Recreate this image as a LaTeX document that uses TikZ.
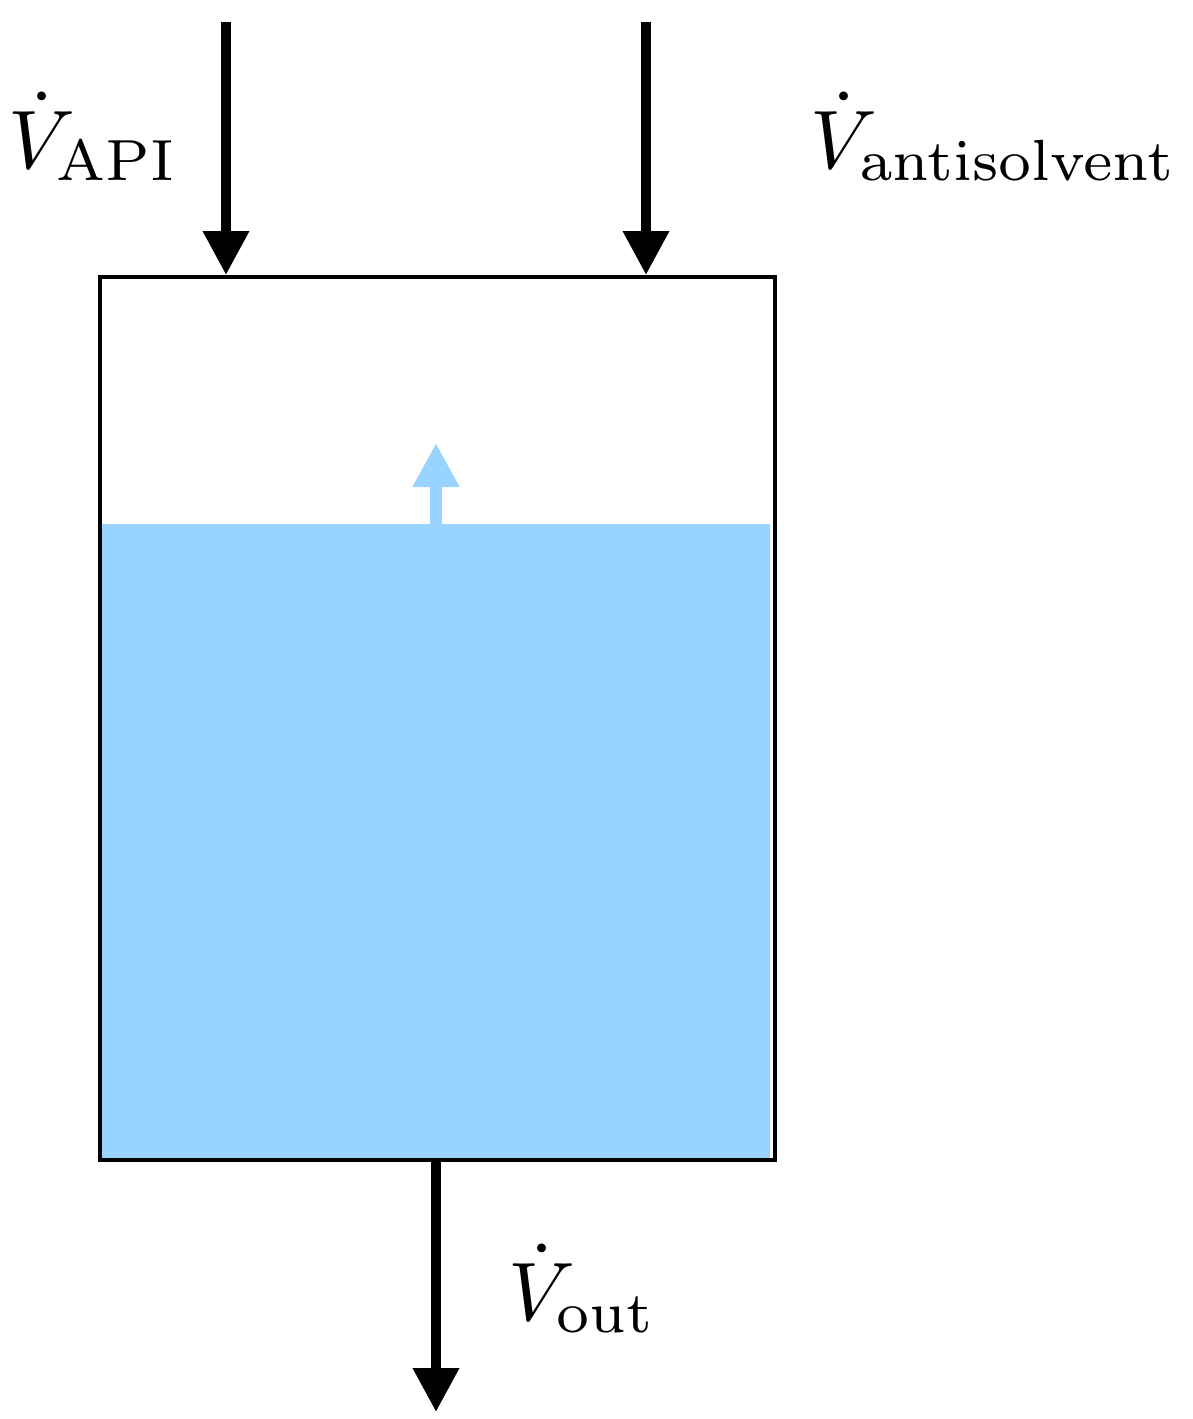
\documentclass[tikz,border=0pt]{standalone}
\usepackage{graphicx}
\usepackage{amsmath}
\usetikzlibrary{arrows.meta}
\definecolor{liq}{HTML}{99D3FF}
\newcommand{\biglab}[1]{\scalebox{8.3}{$#1$}}
\begin{document}
\begin{tikzpicture}[x=1pt,y=-1pt,
  flow/.style={line width=10pt,-{Triangle[width=44pt,length=44pt]}},
  lab/.style={inner sep=0pt}]
\useasboundingbox (0,0) rectangle (1193,1419);
\fill[liq] (100,524) rectangle (770,1158);
\node[draw,line width=4pt,minimum width=675pt,minimum height=883pt,anchor=north west,inner sep=0pt] (tank) at (98,275) {};
\coordinate (c1) at (226,22); \coordinate (t1) at (226,275);
\coordinate (c2) at (646,22); \coordinate (t2) at (646,275);
\coordinate (b0) at (436,1160); \coordinate (b1) at (436,1412);
\coordinate (s0) at (436,524); \coordinate (s1) at (436,443);
\draw[flow] (c1) -- (t1);
\draw[flow] (c2) -- (t2);
\draw[flow] (b0) -- (b1);
\draw[liq,line width=12pt,-{Triangle[width=44pt,length=44pt]}] (s0) -- (s1);
\node[lab,anchor=base west] (l1) at (8,168) {\biglab{\dot V_{\mathrm{API}}}};
\node[lab,anchor=base east] (l2) at (1178,168) {\biglab{\dot V_{\mathrm{antisolvent}}}};
\node[lab,anchor=base west] (l3) at (508,1320) {\biglab{\dot V_{\mathrm{out}}}};
\end{tikzpicture}
\end{document}
